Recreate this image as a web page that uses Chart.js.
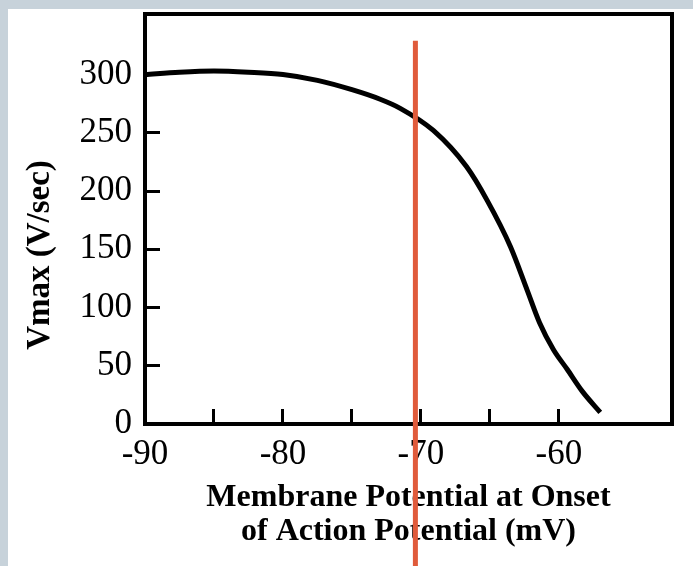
<!DOCTYPE html>
<html>
<head>
<meta charset="utf-8">
<script src="https://cdn.jsdelivr.net/npm/chart.js@4.4.0/dist/chart.umd.min.js"></script>
<style>
  html, body { margin: 0; padding: 0; }
  body { background: #c7d2da; width: 693px; height: 566px; overflow: hidden; position: relative; }
  #panel { position: absolute; left: 8px; top: 9px; width: 685px; height: 557px; background: #fff; }
</style>
</head>
<body>
<div id="panel"><canvas id="chartjs-0" width="685" height="557"></canvas></div>
<script>
// membrane potential (mV) vs Vmax (V/sec)
let potential = [-90, -87.5, -85, -82.5, -80, -77.5, -75, -73, -71.5, -69.1, -66.7, -65.2, -63.5, -62.3, -61.4, -60.4, -59.4, -58.3, -57];
let vmax = [300, 302, 303, 302, 300, 295, 287, 279, 271, 252, 221, 192, 152, 115, 87, 64, 47, 28, 10];

// red marker line
let markerX = [-70.4, -70.4];
let markerY = [329, -130];

let xTicks = [-90, -85, -80, -75, -70, -65, -60];
let xLabels = [-90, -80, -70, -60];
let yTicks = [0, 50, 100, 150, 200, 250, 300];

let xMin = -90, xMax = -51.8;
let yMin = 0, yMax = 352;

let curvePts = potential.map((p, i) => ({x: p, y: vmax[i]}));
let markerPts = markerX.map((p, i) => ({x: p, y: markerY[i]}));

const serif = "'Liberation Serif', 'Times New Roman', serif";

// y title drawn by hand so it can sit lower than the axis middle
const yTitle = {
  id: "yTitle",
  afterDraw(chart) {
    const ctx = chart.ctx;
    ctx.save();
    ctx.font = "bold 33px " + serif;
    ctx.fillStyle = "#000";
    ctx.textAlign = "center";
    ctx.textBaseline = "middle";
    ctx.translate(32, 246);
    ctx.rotate(-Math.PI / 2);
    ctx.fillText("Vmax (V/sec)", 0, 0);
    ctx.restore();
  }
};

function noPad(s) {
  s.paddingTop = 0; s.paddingBottom = 0;
  s.paddingLeft = 0; s.paddingRight = 0;
}

var ctx = document.getElementById("chartjs-0");
let myChart = new Chart(ctx, {
  type: "line",
  data: {
    datasets: [{
      data: markerPts,
      borderColor: "#e05b3b",
      borderWidth: 5,
      pointRadius: 0,
      clip: false,
      xAxisID: "x",
      yAxisID: "y"
    }, {
      data: curvePts,
      borderColor: "#000",
      borderWidth: 5,
      pointRadius: 0,
      cubicInterpolationMode: "monotone",
      fill: false,
      xAxisID: "x",
      yAxisID: "y"
    }]
  },
  options: {
    responsive: false,
    animation: false,
    devicePixelRatio: 1,
    layout: { padding: 0 },
    plugins: { legend: { display: false }, tooltip: { enabled: false } },
    scales: {
      x: {
        type: "linear",
        position: "bottom",
        min: xMin, max: xMax,
        afterBuildTicks(s) { s.ticks = xTicks.map(v => ({value: v})); },
        afterFit(s) { s.height = 142; noPad(s); },
        border: { display: true, color: "#000", width: 4 },
        grid: { drawOnChartArea: false, drawTicks: true, tickLength: -15, color: "#000", lineWidth: 3 },
        ticks: {
          autoSkip: false,
          maxRotation: 0,
          padding: 25,
          color: "#000",
          font: { family: serif, size: 35 },
          callback: function (v) {
            return xLabels.includes(v) ? String(v) : "";
          }
        },
        title: {
          display: true,
          text: ["Membrane Potential at Onset", "of Action Potential (mV)"],
          color: "#000",
          font: { family: serif, size: 32, weight: "bold", lineHeight: 1.06 },
          padding: { top: 0, bottom: 17 }
        }
      },
      xTop: {
        type: "linear",
        position: "top",
        min: xMin, max: xMax,
        afterFit(s) { s.height = 5; noPad(s); },
        border: { display: true, color: "#000", width: 4 },
        grid: { display: false },
        ticks: { display: false }
      },
      y: {
        type: "linear",
        position: "left",
        min: yMin, max: yMax,
        afterBuildTicks(s) { s.ticks = yTicks.map(v => ({value: v})); },
        afterFit(s) { s.width = 137; noPad(s); },
        border: { display: true, color: "#000", width: 4 },
        grid: { drawOnChartArea: false, drawTicks: true, tickLength: -15, color: "#000", lineWidth: 3 },
        ticks: {
          autoSkip: false,
          padding: 28,
          color: "#000",
          font: { family: serif, size: 35 },
          callback: function (v) { return String(v); }
        }
      },
      yRight: {
        type: "linear",
        position: "right",
        min: yMin, max: yMax,
        afterFit(s) { s.width = 21; noPad(s); },
        border: { display: true, color: "#000", width: 4 },
        grid: { display: false },
        ticks: { display: false }
      }
    }
  },
  plugins: [yTitle]
});
</script>
</body>
</html>
